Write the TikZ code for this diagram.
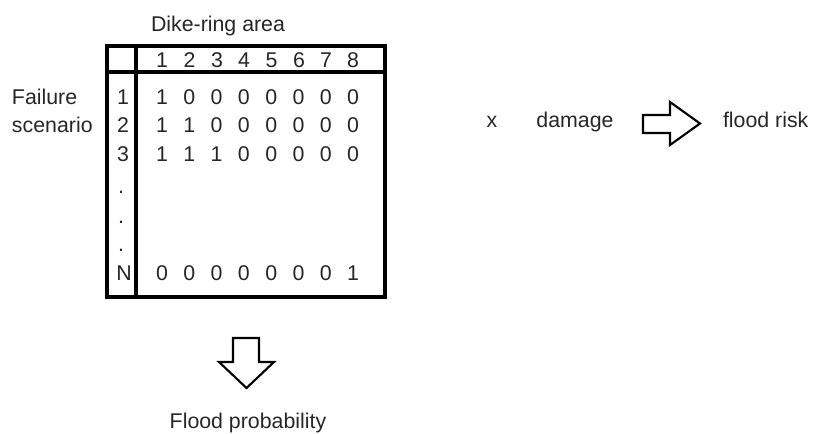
\documentclass[tikz,border=0pt]{standalone}
\usepackage{fontspec}
\setmainfont{Liberation Sans}
\begin{document}
\begin{tikzpicture}[x=0.75pt,y=-0.75pt,
  txt/.style={inner sep=0pt,outer sep=0pt,anchor=base,font=\fontsize{16pt}{19pt}\selectfont,text=black!85},
  grid/.style={line width=2.3pt,line join=miter},
  blockarrow/.style={line width=1.6pt,line join=miter,fill=white}]
\useasboundingbox (0,0) rectangle (818,434);
% title
\node[txt] (title) at (218,32) {Dike-ring area};
% table
\draw[grid] (107,46) rectangle (385,297);
\draw[grid] (136,46) -- (136,297);
\draw[grid] (107,72) -- (385,72);
% header digits
\foreach \i/\x in {1/162,2/189.5,3/217,4/244,5/271.5,6/299,7/326,8/353}
  \node[txt] (h\i) at (\x,68) {\i};
% row labels
\node[txt,anchor=base west] (fail) at (12,105) {Failure};
\node[txt,anchor=base west] (scen) at (12,133) {scenario};
\node[txt] (r1) at (123,105) {1};
\node[txt] (r2) at (123,133) {2};
\node[txt] (r3) at (123,162) {3};
\node[txt] (d1) at (121,193.5) {.};
\node[txt] (d2) at (121,223.5) {.};
\node[txt] (d3) at (121,251.5) {.};
\node[txt] (rN) at (124,281) {N};
% matrix entries
\foreach \v [count=\i] in {1,0,0,0,0,0,0,0}
  \node[txt] (a\i) at ({162+27.3*(\i-1)},105) {\v};
\foreach \v [count=\i] in {1,1,0,0,0,0,0,0}
  \node[txt] (b\i) at ({162+27.3*(\i-1)},133) {\v};
\foreach \v [count=\i] in {1,1,1,0,0,0,0,0}
  \node[txt] (c\i) at ({162+27.3*(\i-1)},162) {\v};
\foreach \v [count=\i] in {0,0,0,0,0,0,0,1}
  \node[txt] (n\i) at ({162+27.3*(\i-1)},281) {\v};
% down arrow
\draw[blockarrow] (233,338) -- (259,338) -- (259,362) -- (274,362) -- (246.5,388) -- (219,362) -- (233,362) -- cycle;
\node[txt] (prob) at (248,429) {Flood probability};
% right part
\node[txt] (times) at (492,128) {x};
\node[txt] (dmg) at (575,128) {damage};
\draw[blockarrow] (643,115) -- (670,115) -- (670,102) -- (700,123.5) -- (670,145) -- (670,133) -- (643,133) -- cycle;
\node[txt,anchor=base west] (risk) at (723,128) {flood risk};
\end{tikzpicture}
\end{document}
